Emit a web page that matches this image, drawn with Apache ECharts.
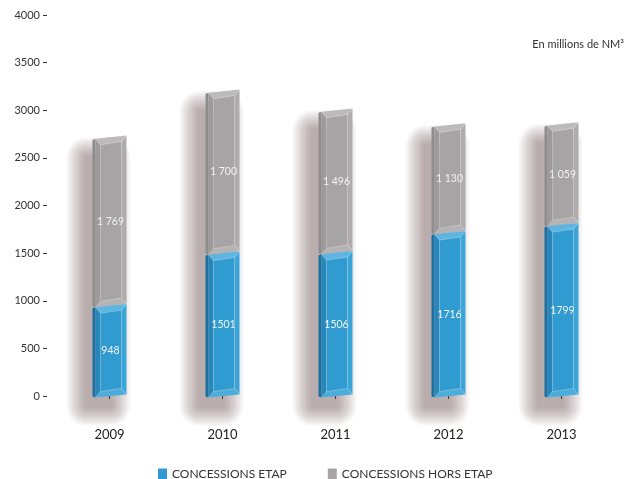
<!DOCTYPE html>
<html>
<head>
<meta charset="utf-8">
<script src="https://cdn.jsdelivr.net/npm/echarts@6/dist/echarts.min.js"></script>
<style>
  html, body { margin: 0; padding: 0; background: #ffffff; }
  #chart { width: 628px; height: 479px; }
</style>
</head>
<body>
<div id="chart"></div>
<script>
// Gas volumes, in millions of NM³
const years = ['2009', '2010', '2011', '2012', '2013'];
const concessionsEtap = [948, 1501, 1506, 1716, 1799];
const concessionsHorsEtap = [1769, 1700, 1496, 1130, 1059];
const yMin = 0, yMax = 4000, yStep = 500;

const FONT = 'Lato, "Noto Sans", sans-serif';
const BAR_W = 34;

// Shades for the bevelled block faces
const BLUE = { face: '#2f9bd0', top: '#5db6e1', left: '#2687bb', right: '#3ca5d8', bottom: '#4aaddc', side: '#1c6f9e' };
const GRAY = { face: '#a6a4a5', top: '#bcbabb', left: '#9c9a9b', right: '#aeacad', bottom: '#b5b3b4', side: '#8e8c8d' };

// French grouping with a space: 1769 -> "1 769"
function spaced(v) {
  if (v < 1000) return String(v);
  return Math.floor(v / 1000) + ' ' + String(v % 1000).padStart(3, '0');
}
function plain(v) { return String(v); }

function blockRenderer(pal, fmt) {
  return function (params, api) {
    const i = api.value(0), lo = api.value(1), hi = api.value(2), v = api.value(3);
    const a = api.coord([i, lo]);
    const b = api.coord([i, hi]);
    const w = BAR_W, sl = 1.6, side = 3, ix = 5, iy = 6;
    const cx = a[0];
    const xL = cx - w / 2, xR = cx + w / 2, fL = xL + side;
    const tL = b[1] + sl, tR = b[1] - sl, bL = a[1] + sl, bR = a[1] - sl;
    const outer = [[fL, tL], [xR, tR], [xR, bR], [fL, bL]];
    const inner = [[fL + ix, tL + iy], [xR - ix, tR + iy], [xR - ix, bR - iy], [fL + ix, bL - iy]];
    const line = 'rgba(255,255,255,0.38)';
    const poly = (pts, fill) => ({ type: 'polygon', shape: { points: pts }, style: { fill: fill } });
    const seg = (p, q) => ({ type: 'line', shape: { x1: p[0], y1: p[1], x2: q[0], y2: q[1] }, style: { stroke: line, lineWidth: 0.6 } });
    return {
      type: 'group',
      children: [
        poly([[xL, tL + 1], [fL, tL], [fL, bL], [xL, bL - 1]], pal.side),
        poly([outer[0], outer[1], inner[1], inner[0]], pal.top),
        poly([outer[1], outer[2], inner[2], inner[1]], pal.right),
        poly([outer[2], outer[3], inner[3], inner[2]], pal.bottom),
        poly([outer[3], outer[0], inner[0], inner[3]], pal.left),
        poly(inner, pal.face),
        { type: 'polygon', shape: { points: inner }, style: { fill: null, stroke: line, lineWidth: 0.6 } },
        seg(outer[0], inner[0]), seg(outer[1], inner[1]), seg(outer[2], inner[2]), seg(outer[3], inner[3]),
        {
          type: 'text',
          style: {
            x: cx + 1, y: (a[1] + b[1]) / 2, text: fmt(v),
            fill: '#f3f3f3', font: '10.5px ' + FONT, align: 'center', verticalAlign: 'middle'
          }
        }
      ]
    };
  };
}

// Soft drop shadow under each full stack, built from stacked translucent layers
function shadowRenderer(params, api) {
  const i = api.value(0), lo = api.value(1), hi = api.value(2);
  const a = api.coord([i, lo]);
  const b = api.coord([i, hi]);
  const dx = -6, layers = 16, step = 1.25;
  const x = a[0] - BAR_W / 2 + dx, w = BAR_W - 10;
  const y = b[1] + 20, h = a[1] - b[1] - 10;
  const children = [];
  for (let k = layers; k >= 1; k--) {
    const g = k * step;
    children.push({
      type: 'rect',
      shape: { x: x - g, y: y - g, width: w + 2 * g, height: h + 2 * g, r: g },
      style: { fill: 'rgba(85,68,76,0.03)' }
    });
  }
  return { type: 'group', children: children };
}

const etapData = years.map((y, i) => [i, 0, concessionsEtap[i], concessionsEtap[i]]);
const horsData = years.map((y, i) => [i, concessionsEtap[i], concessionsEtap[i] + concessionsHorsEtap[i], concessionsHorsEtap[i]]);
const stackData = years.map((y, i) => [i, 0, concessionsEtap[i] + concessionsHorsEtap[i]]);

const chart = echarts.init(document.getElementById('chart'), null, { renderer: 'canvas' });
chart.setOption({
  backgroundColor: '#ffffff',
  animation: false,
  textStyle: { fontFamily: FONT },
  title: {
    text: 'En millions de NM³',
    right: -1, top: 34,
    textStyle: { fontSize: 11, fontWeight: 'normal', color: '#333', fontFamily: FONT }
  },
  grid: { left: 53, right: 10, top: 15, bottom: 83 },
  xAxis: {
    type: 'category',
    data: years,
    offset: 14,
    axisLine: { show: false },
    axisTick: { show: true, alignWithLabel: true, length: 3, lineStyle: { color: '#333' } },
    axisLabel: { color: '#222', fontSize: 13, margin: 18, fontFamily: FONT },
    splitLine: { show: false }
  },
  yAxis: {
    type: 'value',
    min: yMin, max: yMax, interval: yStep,
    offset: 6,
    axisLine: { show: false },
    axisTick: { show: true, length: 4, lineStyle: { color: '#333' } },
    axisLabel: { color: '#333', fontSize: 11, margin: 7, fontFamily: FONT, formatter: (v) => String(v) },
    splitLine: { show: false }
  },
  legend: {
    data: ['CONCESSIONS ETAP', 'CONCESSIONS HORS ETAP'],
    left: 153, top: 463,
    icon: 'rect',
    itemWidth: 9, itemHeight: 11, itemGap: 41,
    textStyle: { fontSize: 12, color: '#333', fontFamily: FONT }
  },
  series: [
    {
      name: 'shadow',
      type: 'custom',
      z: 1,
      silent: true,
      clip: false,
      encode: { x: 0, y: [1, 2] },
      renderItem: shadowRenderer,
      data: stackData
    },
    {
      name: 'CONCESSIONS HORS ETAP',
      type: 'custom',
      z: 2,
      clip: false,
      itemStyle: { color: GRAY.face },
      encode: { x: 0, y: [1, 2] },
      renderItem: blockRenderer(GRAY, spaced),
      data: horsData
    },
    {
      name: 'CONCESSIONS ETAP',
      type: 'custom',
      z: 3,
      clip: false,
      itemStyle: { color: BLUE.face },
      encode: { x: 0, y: [1, 2] },
      renderItem: blockRenderer(BLUE, plain),
      data: etapData
    }
  ]
});
</script>
</body>
</html>
